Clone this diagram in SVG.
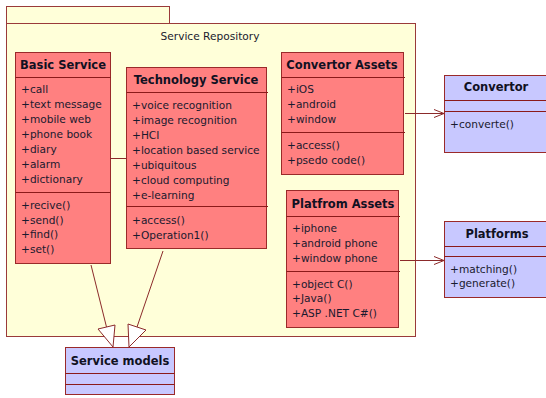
<svg xmlns="http://www.w3.org/2000/svg" width="546" height="398" viewBox="0 0 546 398">
  <style>
    .pkg { fill: #ffffd9; stroke: #9a3a3a; stroke-width: 1; }
    .cls { fill: #ff8080; stroke: #9a2a2a; stroke-width: 1; }
    .ext { fill: #c8c8ff; stroke: #9a2a2a; stroke-width: 1; }
    .sep { stroke: #8b1a1a; stroke-width: 1; fill: none; }
    .t { font-family: "DejaVu Sans", "Liberation Sans", sans-serif; font-size: 10.6px; fill: #1a1a2e; }
    .h { font-family: "DejaVu Sans", "Liberation Sans", sans-serif; font-size: 11.5px; font-weight: bold; fill: #111122; text-anchor: middle; }
    .edge { stroke: #8b2a2a; stroke-width: 1; fill: none; }
    .gen { fill: #ffffff; stroke: #8b2a2a; stroke-width: 1; }
  </style>
  <defs>
    <marker id="open" viewBox="0 0 10 10" refX="10" refY="5" markerWidth="10" markerHeight="10" markerUnits="userSpaceOnUse" orient="auto">
      <path d="M0,1 L10,5 L0,9" fill="none" stroke="#8b2a2a" stroke-width="1"/>
    </marker>
  </defs>

  <g id="service-repository">
    <rect class="pkg" x="6.5" y="6.5" width="163" height="17"/>
    <rect class="pkg" x="6.5" y="23.5" width="409" height="313"/>
    <text class="t" x="210" y="40" text-anchor="middle">Service Repository</text>
  </g>

  <g id="basic-service">
    <rect class="cls" x="15.5" y="52.5" width="95" height="211"/>
    <line class="sep" x1="15.5" y1="77.5" x2="110.5" y2="77.5"/>
    <line class="sep" x1="15.5" y1="192.5" x2="110.5" y2="192.5"/>
    <text class="h" x="63" y="69">Basic Service</text>
    <text class="t" x="21" y="93">+call</text>
    <text class="t" x="21" y="108">+text message</text>
    <text class="t" x="21" y="123">+mobile web</text>
    <text class="t" x="21" y="138">+phone book</text>
    <text class="t" x="21" y="153">+diary</text>
    <text class="t" x="21" y="168">+alarm</text>
    <text class="t" x="21" y="183">+dictionary</text>
    <text class="t" x="21" y="209">+recive()</text>
    <text class="t" x="21" y="224">+send()</text>
    <text class="t" x="21" y="238">+find()</text>
    <text class="t" x="21" y="253">+set()</text>
  </g>

  <g id="technology-service">
    <rect class="cls" x="126.5" y="67.5" width="140" height="181"/>
    <line class="sep" x1="126.5" y1="92.5" x2="268" y2="92.5"/>
    <line class="sep" x1="126.5" y1="206.5" x2="268" y2="206.5"/>
    <text class="h" x="196" y="84">Technology Service</text>
    <text class="t" x="132" y="109">+voice recognition</text>
    <text class="t" x="132" y="124">+image recognition</text>
    <text class="t" x="132" y="139">+HCI</text>
    <text class="t" x="132" y="154">+location based service</text>
    <text class="t" x="132" y="169">+ubiquitous</text>
    <text class="t" x="132" y="184">+cloud computing</text>
    <text class="t" x="132" y="199">+e-learning</text>
    <text class="t" x="132" y="224">+access()</text>
    <text class="t" x="132" y="239">+Operation1()</text>
  </g>

  <g id="convertor-assets">
    <rect class="cls" x="281.5" y="52.5" width="122" height="122"/>
    <line class="sep" x1="281.5" y1="77.5" x2="405" y2="77.5"/>
    <line class="sep" x1="281.5" y1="132.5" x2="405" y2="132.5"/>
    <text class="h" x="342" y="69">Convertor Assets</text>
    <text class="t" x="287" y="93">+iOS</text>
    <text class="t" x="287" y="108">+android</text>
    <text class="t" x="287" y="123">+window</text>
    <text class="t" x="287" y="149">+access()</text>
    <text class="t" x="287" y="164">+psedo code()</text>
  </g>

  <g id="platfrom-assets">
    <rect class="cls" x="286.5" y="190.5" width="112" height="137"/>
    <line class="sep" x1="286.5" y1="216.5" x2="400" y2="216.5"/>
    <line class="sep" x1="286.5" y1="271.5" x2="400" y2="271.5"/>
    <text class="h" x="343" y="208">Platfrom Assets</text>
    <text class="t" x="292" y="232">+iphone</text>
    <text class="t" x="292" y="247">+android phone</text>
    <text class="t" x="292" y="262">+window phone</text>
    <text class="t" x="292" y="288">+object C()</text>
    <text class="t" x="292" y="302">+Java()</text>
    <text class="t" x="292" y="317">+ASP .NET C#()</text>
  </g>

  <g id="convertor">
    <rect class="ext" x="444.5" y="75.5" width="120" height="77"/>
    <line class="sep" x1="444.5" y1="100.5" x2="546" y2="100.5"/>
    <line class="sep" x1="444.5" y1="111.5" x2="546" y2="111.5"/>
    <text class="h" x="496" y="91">Convertor</text>
    <text class="t" x="450" y="128">+converte()</text>
  </g>

  <g id="platforms">
    <rect class="ext" x="444.5" y="221.5" width="120" height="76"/>
    <line class="sep" x1="444.5" y1="246.5" x2="546" y2="246.5"/>
    <line class="sep" x1="444.5" y1="256.5" x2="546" y2="256.5"/>
    <text class="h" x="497" y="238">Platforms</text>
    <text class="t" x="450" y="273">+matching()</text>
    <text class="t" x="450" y="287">+generate()</text>
  </g>

  <g id="service-models">
    <rect class="ext" x="65.5" y="347.5" width="109" height="47"/>
    <line class="sep" x1="65.5" y1="373.5" x2="174.5" y2="373.5"/>
    <line class="sep" x1="65.5" y1="384.5" x2="174.5" y2="384.5"/>
    <text class="h" x="120" y="365">Service models</text>
  </g>

  <g id="connectors">
    <!-- association between the two service classes -->
    <line class="edge" x1="110.5" y1="158.5" x2="126.5" y2="158.5"/>
    <!-- dependencies toward the external classes -->
    <line class="edge" x1="405" y1="113.5" x2="444" y2="113.5" marker-end="url(#open)"/>
    <line class="edge" x1="400" y1="260.5" x2="444" y2="260.5" marker-end="url(#open)"/>
    <!-- generalizations into Service models -->
    <line class="edge" x1="91" y1="265" x2="106.5" y2="327"/>
    <polygon class="gen" points="113,347 98,329 115,325"/>
    <line class="edge" x1="163" y1="251" x2="137" y2="327"/>
    <polygon class="gen" points="129,347 128,324 146,330"/>
  </g>
</svg>
